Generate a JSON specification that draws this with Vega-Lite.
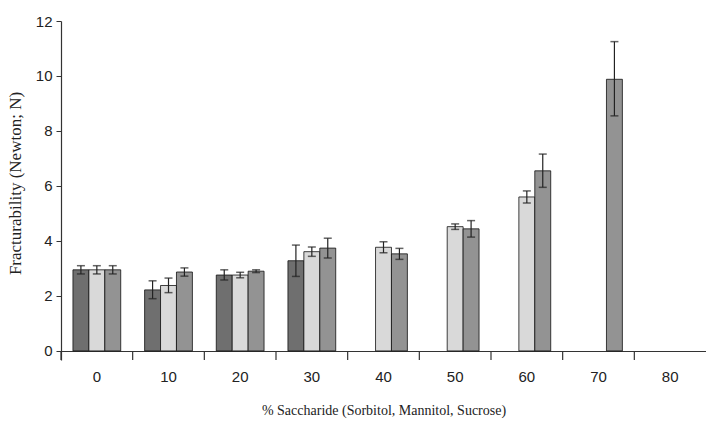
{
  "$schema": "https://vega.github.io/schema/vega-lite/v6.json",
  "autosize": "none",
  "width": 645,
  "height": 339,
  "padding": {"left": 61, "top": 21, "right": 0, "bottom": 62},
  "background": "white",
  "config": {"view": {"stroke": null}},
  "datasets": {
    "bars": [
      {"cat": 0, "sugar": "Sorbitol", "value": 2.95, "lo": 2.8, "hi": 3.1},
      {"cat": 0, "sugar": "Mannitol", "value": 2.95, "lo": 2.8, "hi": 3.1},
      {"cat": 0, "sugar": "Sucrose", "value": 2.95, "lo": 2.8, "hi": 3.1},
      {"cat": 10, "sugar": "Sorbitol", "value": 2.22, "lo": 1.9, "hi": 2.55},
      {"cat": 10, "sugar": "Mannitol", "value": 2.38, "lo": 2.12, "hi": 2.65},
      {"cat": 10, "sugar": "Sucrose", "value": 2.87, "lo": 2.72, "hi": 3.02},
      {"cat": 20, "sugar": "Sorbitol", "value": 2.76, "lo": 2.58, "hi": 2.95},
      {"cat": 20, "sugar": "Mannitol", "value": 2.76, "lo": 2.66, "hi": 2.86},
      {"cat": 20, "sugar": "Sucrose", "value": 2.9, "lo": 2.85, "hi": 2.95},
      {"cat": 30, "sugar": "Sorbitol", "value": 3.28, "lo": 2.71, "hi": 3.85},
      {"cat": 30, "sugar": "Mannitol", "value": 3.61, "lo": 3.44, "hi": 3.78},
      {"cat": 30, "sugar": "Sucrose", "value": 3.74, "lo": 3.38, "hi": 4.1},
      {"cat": 40, "sugar": "Mannitol", "value": 3.77, "lo": 3.57, "hi": 3.97},
      {"cat": 40, "sugar": "Sucrose", "value": 3.53, "lo": 3.33, "hi": 3.73},
      {"cat": 50, "sugar": "Mannitol", "value": 4.52, "lo": 4.42, "hi": 4.62},
      {"cat": 50, "sugar": "Sucrose", "value": 4.44, "lo": 4.14, "hi": 4.74},
      {"cat": 60, "sugar": "Mannitol", "value": 5.6, "lo": 5.38, "hi": 5.82},
      {"cat": 60, "sugar": "Sucrose", "value": 6.55, "lo": 5.95, "hi": 7.16},
      {"cat": 70, "sugar": "Sucrose", "value": 9.88, "lo": 8.55, "hi": 11.25}
    ],
    "ticks": [
      {"cat": 0}, {"cat": 10}, {"cat": 20}, {"cat": 30}, {"cat": 40},
      {"cat": 50}, {"cat": 60}, {"cat": 70}, {"cat": 80}
    ]
  },
  "encoding": {
    "x": {
      "field": "cat",
      "type": "ordinal",
      "scale": {"domain": [0, 10, 20, 30, 40, 50, 60, 70, 80], "paddingInner": 0.3333, "paddingOuter": 0.1667},
      "axis": {
        "title": "% Saccharide (Sorbitol, Mannitol, Sucrose)",
        "titleFont": "Liberation Serif",
        "titleFontSize": 14,
        "titleFontWeight": "normal",
        "titleColor": "#222",
        "titlePadding": 19,
        "labelFont": "Liberation Sans",
        "labelFontSize": 15,
        "labelColor": "#222",
        "labelAngle": 0,
        "labelPadding": 18,
        "ticks": false,
        "tickSize": 0,
        "offset": -9,
        "domainColor": "#333",
        "domainWidth": 1.2
      }
    }
  },
  "layer": [
    {
      "data": {"name": "bars"},
      "mark": {"type": "bar", "stroke": "#111", "strokeWidth": 0.8},
      "encoding": {
        "xOffset": {"field": "sugar", "scale": {"domain": ["Sorbitol", "Mannitol", "Sucrose"], "paddingInner": 0}},
        "y": {
          "field": "value",
          "type": "quantitative",
          "scale": {"domain": [-0.33, 12], "nice": false, "zero": false},
          "axis": {
            "values": [0, 2, 4, 6, 8, 10, 12],
            "title": "Fracturability (Newton; N)",
            "titleFont": "Liberation Serif",
            "titleFontSize": 17,
            "titleFontWeight": "normal",
            "titleColor": "#222",
            "titlePadding": 11,
            "titleY": 162,
            "labelFont": "Liberation Sans",
            "labelFontSize": 15,
            "labelColor": "#222",
            "labelPadding": 4,
            "tickSize": 5,
            "tickColor": "#333",
            "domainColor": "#333",
            "domainWidth": 1.2,
            "grid": false
          }
        },
        "y2": {"datum": 0},
        "color": {
          "field": "sugar",
          "scale": {"domain": ["Sorbitol", "Mannitol", "Sucrose"], "range": ["#6f6f6f", "#d9d9d9", "#939393"]},
          "legend": null
        }
      }
    },
    {
      "data": {"name": "bars"},
      "mark": {"type": "rule", "color": "#222", "strokeWidth": 1.2},
      "encoding": {
        "xOffset": {"field": "sugar", "scale": {"domain": ["Sorbitol", "Mannitol", "Sucrose"], "paddingInner": 0}},
        "y": {"field": "lo", "type": "quantitative"},
        "y2": {"field": "hi"}
      }
    },
    {
      "data": {"name": "bars"},
      "mark": {"type": "tick", "color": "#222", "thickness": 1.5, "size": 8},
      "encoding": {
        "xOffset": {"field": "sugar", "scale": {"domain": ["Sorbitol", "Mannitol", "Sucrose"], "paddingInner": 0}},
        "y": {"field": "lo", "type": "quantitative"}
      }
    },
    {
      "data": {"name": "bars"},
      "mark": {"type": "tick", "color": "#222", "thickness": 1.5, "size": 8},
      "encoding": {
        "xOffset": {"field": "sugar", "scale": {"domain": ["Sorbitol", "Mannitol", "Sucrose"], "paddingInner": 0}},
        "y": {"field": "hi", "type": "quantitative"}
      }
    },
    {
      "data": {"name": "ticks"},
      "mark": {"type": "rule", "color": "#333", "strokeWidth": 1.2},
      "encoding": {
        "x": {"field": "cat", "type": "ordinal", "bandPosition": -0.25},
        "y": {"datum": 0},
        "y2": {"datum": -0.33}
      }
    }
  ]
}
